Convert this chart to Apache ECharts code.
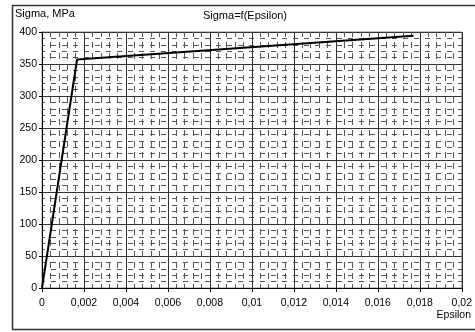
<!DOCTYPE html>
<html>
<head>
<meta charset="utf-8">
<script src="https://cdn.jsdelivr.net/npm/echarts@6/dist/echarts.min.js"></script>
<style>
  html, body { margin: 0; padding: 0; background: #fff; }
  #chart { width: 475px; height: 332px; }
</style>
</head>
<body>
<div id="chart"></div>
<script>
// Stress-strain curve: elastic rise, then hardening branch
const epsilon = [0, 0.00167, 0.0177];
const sigma = [0, 357, 394];
const xTickLabels = ['0', '0,002', '0,004', '0,006', '0,008', '0,01', '0,012', '0,014', '0,016', '0,018', '0,02'];
const yTickLabels = ['0', '50', '100', '150', '200', '250', '300', '350', '400'];

const FONT = '"Liberation Sans", Arial, sans-serif';

const chart = echarts.init(document.getElementById('chart'), null, { renderer: 'canvas' });

chart.setOption({
  animation: false,
  backgroundColor: '#ffffff',
  title: {
    text: 'Sigma=f(Epsilon)',
    left: 240,
    top: 5,
    textAlign: 'center',
    textStyle: { fontFamily: FONT, fontSize: 11, fontWeight: 'normal', color: '#000' }
  },
  graphic: [
    {
      type: 'rect',
      shape: { x: 12.5, y: 5.5, width: 470, height: 324 },
      style: { fill: 'none', stroke: '#333', lineWidth: 1.5 },
      z: 100
    },
    {
      type: 'text',
      left: 15, top: 8,
      style: { text: 'Sigma, MPa', fontFamily: FONT, fontSize: 11, fill: '#000' }
    },
    {
      type: 'text',
      right: 4, top: 310,
      style: { text: 'Epsilon', fontFamily: FONT, fontSize: 10.5, fill: '#000' }
    }
  ],
  grid: {
    left: 42, right: 13, top: 32, bottom: 44,
    show: true, borderColor: '#888', borderWidth: 1, backgroundColor: '#fff'
  },
  xAxis: {
    type: 'value',
    min: 0, max: 0.02, interval: 0.002,
    axisLine: { show: true, onZero: false, lineStyle: { color: '#000', width: 1 } },
    axisTick: { show: true, length: 4, lineStyle: { color: '#000' } },
    axisLabel: {
      margin: 10, fontFamily: FONT, fontSize: 10.5, color: '#000',
      formatter: (v, i) => xTickLabels[i]
    },
    splitLine: { show: true, lineStyle: { color: '#333', width: 1 } },
    minorTick: { show: false, splitNumber: 5 },
    minorSplitLine: { show: true, lineStyle: { color: '#555', width: 1, type: [6, 5], dashOffset: 1 } }
  },
  yAxis: {
    type: 'value',
    min: 0, max: 400, interval: 50,
    axisLine: { show: true, onZero: false, lineStyle: { color: '#000', width: 1 } },
    axisTick: { show: true, length: 3, lineStyle: { color: '#000' } },
    axisLabel: {
      margin: 5, fontFamily: FONT, fontSize: 10.5, color: '#000',
      formatter: (v, i) => yTickLabels[i]
    },
    splitLine: { show: true, lineStyle: { color: '#333', width: 1 } },
    minorTick: { show: false, splitNumber: 5 },
    minorSplitLine: { show: true, lineStyle: { color: '#555', width: 1, type: [5, 6], dashOffset: 2 } }
  },
  series: [
    {
      type: 'line',
      data: epsilon.map((e, i) => [e, sigma[i]]),
      showSymbol: false,
      lineStyle: { color: '#000', width: 2 },
      z: 10
    }
  ]
});
</script>
</body>
</html>
